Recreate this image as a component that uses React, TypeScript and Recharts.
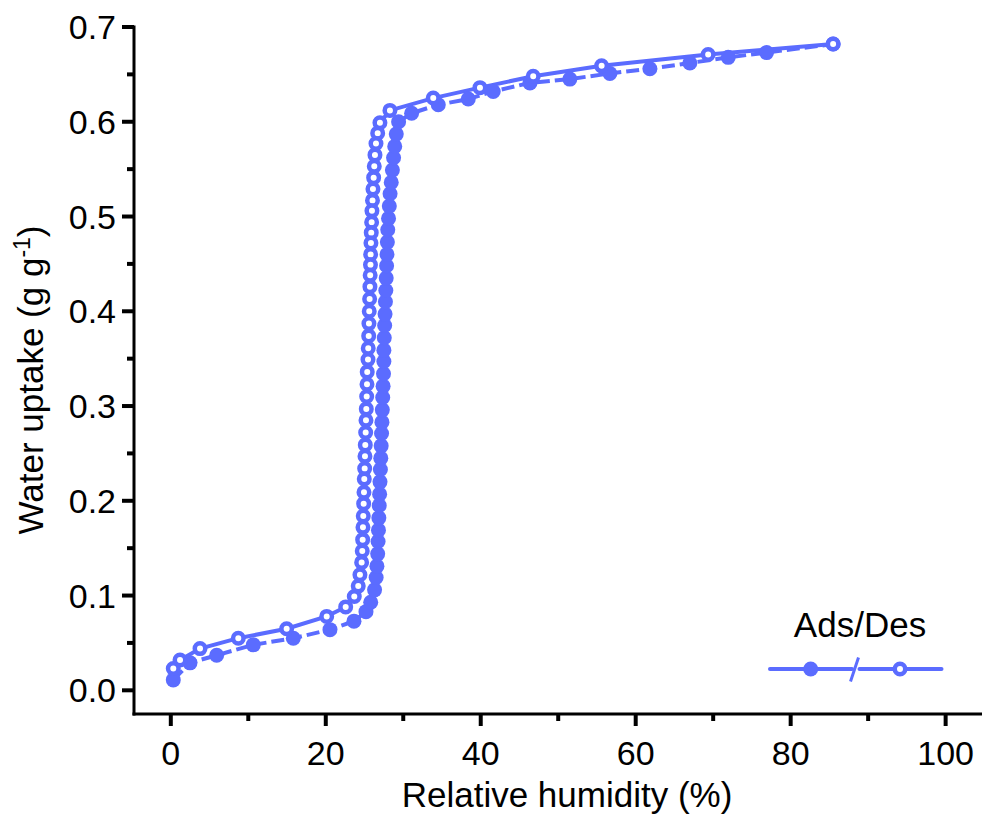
import { LineChart, Line, XAxis, YAxis, Legend, Label } from "recharts";

const BLUE = "#5b6cff";
const FONT = "'Liberation Sans', Arial, sans-serif";

// adsorption branch (filled markers, dashed line)
const adsRH = [
  0.32, 2.48, 5.92, 10.65, 15.81, 20.54, 23.64, 25.19,
  25.8, 26.3, 26.5, 26.6, 26.7, 26.75, 26.8, 26.85, 26.9, 26.95,
  27.0, 27.05, 27.1, 27.15, 27.2, 27.25, 27.3, 27.35, 27.4, 27.45,
  27.5, 27.5, 27.55, 27.6, 27.65, 27.7, 27.75, 27.8, 27.85, 27.9,
  27.95, 28.0, 28.1, 28.2, 28.3, 28.45, 28.6, 28.75, 28.9, 29.1, 29.4,
  31.08, 34.52, 38.39, 41.61, 46.35, 51.5, 56.67, 61.83, 66.99, 71.94, 76.89, 85.48,
];
const adsUptake = [
  0.011, 0.029, 0.037, 0.048, 0.055, 0.064, 0.073, 0.083,
  0.093, 0.106, 0.119, 0.131, 0.144, 0.157, 0.169, 0.182, 0.195, 0.207,
  0.22, 0.233, 0.245, 0.258, 0.271, 0.283, 0.296, 0.309, 0.321, 0.334,
  0.347, 0.359, 0.372, 0.385, 0.397, 0.41, 0.422, 0.435, 0.448, 0.46,
  0.473, 0.486, 0.498, 0.511, 0.524, 0.536, 0.549, 0.562, 0.574, 0.587, 0.6,
  0.609, 0.618, 0.624, 0.632, 0.641, 0.645, 0.651, 0.656, 0.662, 0.668, 0.673, 0.682,
];

// desorption branch (open markers, solid line)
const desRH = [
  85.48, 69.35, 55.6, 46.77, 39.9, 33.87, 28.28,
  26.99, 26.7, 26.48, 26.35, 26.26, 26.18, 26.09, 26.03, 25.96, 25.92,
  25.87, 25.83, 25.79, 25.77, 25.73, 25.7, 25.66, 25.61, 25.57, 25.54,
  25.48, 25.45, 25.35, 25.32, 25.28, 25.23, 25.19, 25.15, 25.1, 25.06,
  25.02, 24.97, 24.93, 24.89, 24.84, 24.8, 24.76, 24.71, 24.63, 24.41,
  24.19, 23.68, 22.57, 20.12, 14.95, 8.71, 3.77, 1.19, 0.32,
];
const desUptake = [
  0.682, 0.671, 0.659, 0.648, 0.636, 0.625, 0.612,
  0.599, 0.588, 0.577, 0.565, 0.553, 0.541, 0.529, 0.517, 0.506, 0.494,
  0.483, 0.472, 0.46, 0.449, 0.438, 0.426, 0.413, 0.4, 0.387, 0.374,
  0.361, 0.349, 0.336, 0.323, 0.31, 0.297, 0.285, 0.272, 0.259, 0.247,
  0.234, 0.223, 0.209, 0.197, 0.184, 0.172, 0.159, 0.147, 0.135, 0.122,
  0.11, 0.099, 0.088, 0.078, 0.065, 0.055, 0.044, 0.032, 0.023,
];

const xTicks = [0, 10, 20, 30, 40, 50, 60, 70, 80, 90, 100];
const yTicks = [0, 0.05, 0.1, 0.15, 0.2, 0.25, 0.3, 0.35, 0.4, 0.45, 0.5, 0.55, 0.6, 0.65, 0.7];

const zip = (xs: number[], ys: number[]) =>
  xs.slice(0, Math.min(xs.length, ys.length)).map((x, i) => ({ x, y: ys[i] }));

const adsData = zip(adsRH, adsUptake);
const desData = zip(desRH, desUptake);

const isMajorX = (v: number) => v % 20 === 0;
const isMajorY = (v: number) => Math.round(v * 100) % 10 === 0;

const MAJOR = 12;
const MINOR = 7;

function BottomTick(props: any) {
  const { x, y, payload } = props;
  const major = isMajorX(payload.value);
  return (
    <g>
      <line x1={x} y1={y} x2={x} y2={y + (major ? MAJOR : MINOR)} stroke="#000" strokeWidth={4} />
      {major && (
        <text x={x} y={y + 51} textAnchor="middle" fontSize={34} fontFamily={FONT} fill="#000">
          {payload.value}
        </text>
      )}
    </g>
  );
}

function TopTick(props: any) {
  const { x, y, payload } = props;
  const major = isMajorX(payload.value);
  return <line x1={x} y1={y} x2={x} y2={y + (major ? MAJOR : MINOR)} stroke="#000" strokeWidth={4} />;
}

function LeftTick(props: any) {
  const { x, y, payload } = props;
  const major = isMajorY(payload.value);
  return (
    <g>
      <line x1={x - (major ? MAJOR : MINOR)} y1={y} x2={x} y2={y} stroke="#000" strokeWidth={4} />
      {major && (
        <text x={x - 18} y={y + 12} textAnchor="end" fontSize={34} fontFamily={FONT} fill="#000">
          {payload.value.toFixed(1)}
        </text>
      )}
    </g>
  );
}

function RightTick(props: any) {
  const { x, y, payload } = props;
  const major = isMajorY(payload.value);
  return <line x1={x - (major ? MAJOR : MINOR)} y1={y} x2={x} y2={y} stroke="#000" strokeWidth={4} />;
}

const filledDot = (p: any) => (
  <circle key={`a${p.index}`} cx={p.cx} cy={p.cy} r={7.5} fill={BLUE} />
);
const openDot = (p: any) => (
  <circle key={`d${p.index}`} cx={p.cx} cy={p.cy} r={5.25} fill="#fff" stroke={BLUE} strokeWidth={4.5} />
);

function LegendBox() {
  return (
    <svg width={200} height={100} style={{ display: "block" }}>
      <text x={100} y={37} textAnchor="middle" fontSize={35} fontFamily={FONT} fill="#000">
        Ads/Des
      </text>
      <line x1={10} y1={69} x2={92} y2={69} stroke={BLUE} strokeWidth={4} strokeLinecap="round" />
      <line x1={90.5} y1={81.5} x2={98.5} y2={57.5} stroke={BLUE} strokeWidth={3} />
      <line x1={99.5} y1={69} x2={181.5} y2={69} stroke={BLUE} strokeWidth={4} strokeLinecap="round" />
      <circle cx={50.7} cy={69} r={7.5} fill={BLUE} />
      <circle cx={140} cy={69} r={5.25} fill="#fff" stroke={BLUE} strokeWidth={4.5} />
    </svg>
  );
}

const axisLine = { stroke: "#000", strokeWidth: 3, strokeLinecap: "square" as const };
const xDomain: [number, number] = [-4.75, 104.5];
const yDomain: [number, number] = [-0.025, 0.7];

export default function App() {
  return (
    <div style={{ position: "absolute", left: 0, top: 0, width: 982, height: 816, background: "#fff" }}>
      <LineChart width={982} height={816} margin={{ top: 27, right: 1.5, bottom: 0, left: 0 }}>
        <XAxis
          xAxisId="b"
          type="number"
          dataKey="x"
          domain={xDomain}
          allowDataOverflow
          ticks={xTicks}
          interval={0}
          tickSize={0}
          tickMargin={0}
          tickLine={false}
          tick={BottomTick}
          height={102}
          axisLine={axisLine}
        >
          <Label
            content={() => (
              <text x={567} y={807} textAnchor="middle" fontSize={35} fontFamily={FONT} fill="#000">
                Relative humidity (%)
              </text>
            )}
          />
        </XAxis>
        <XAxis
          xAxisId="t"
          orientation="top"
          type="number"
          dataKey="x"
          domain={xDomain}
          allowDataOverflow
          ticks={xTicks}
          interval={0}
          tickSize={0}
          tickMargin={0}
          tickLine={false}
          tick={TopTick}
          height={0}
          axisLine={axisLine}
        />
        <YAxis
          yAxisId="l"
          type="number"
          domain={yDomain}
          allowDataOverflow
          ticks={yTicks}
          interval={0}
          tickSize={0}
          tickMargin={0}
          tickLine={false}
          tick={LeftTick}
          width={134}
          axisLine={axisLine}
        >
          <Label
            content={() => (
              <text
                x={43}
                y={380}
                transform="rotate(-90, 43, 380)"
                textAnchor="middle"
                fontSize={35}
                fontFamily={FONT}
                fill="#000"
              >
                Water uptake (g g
                <tspan dy={-13} fontSize={23}>-1</tspan>
                <tspan dy={13}>)</tspan>
              </text>
            )}
          />
        </YAxis>
        <YAxis
          yAxisId="r"
          orientation="right"
          type="number"
          domain={yDomain}
          allowDataOverflow
          ticks={yTicks}
          interval={0}
          tickSize={0}
          tickMargin={0}
          tickLine={false}
          tick={RightTick}
          width={0}
          axisLine={axisLine}
        />
        <Line
          xAxisId="b"
          yAxisId="l"
          data={adsData}
          dataKey="y"
          type="linear"
          stroke={BLUE}
          strokeWidth={4}
          strokeDasharray="13 5"
          dot={filledDot}
          activeDot={false}
          isAnimationActive={false}
        />
        <Line
          xAxisId="b"
          yAxisId="l"
          data={desData}
          dataKey="y"
          type="linear"
          stroke={BLUE}
          strokeWidth={4}
          dot={openDot}
          activeDot={false}
          isAnimationActive={false}
        />
        <Legend
          layout="vertical"
          align="center"
          verticalAlign="middle"
          wrapperStyle={{ left: 760, top: 600, width: 200, height: 100 }}
          content={LegendBox}
        />
      </LineChart>
    </div>
  );
}
